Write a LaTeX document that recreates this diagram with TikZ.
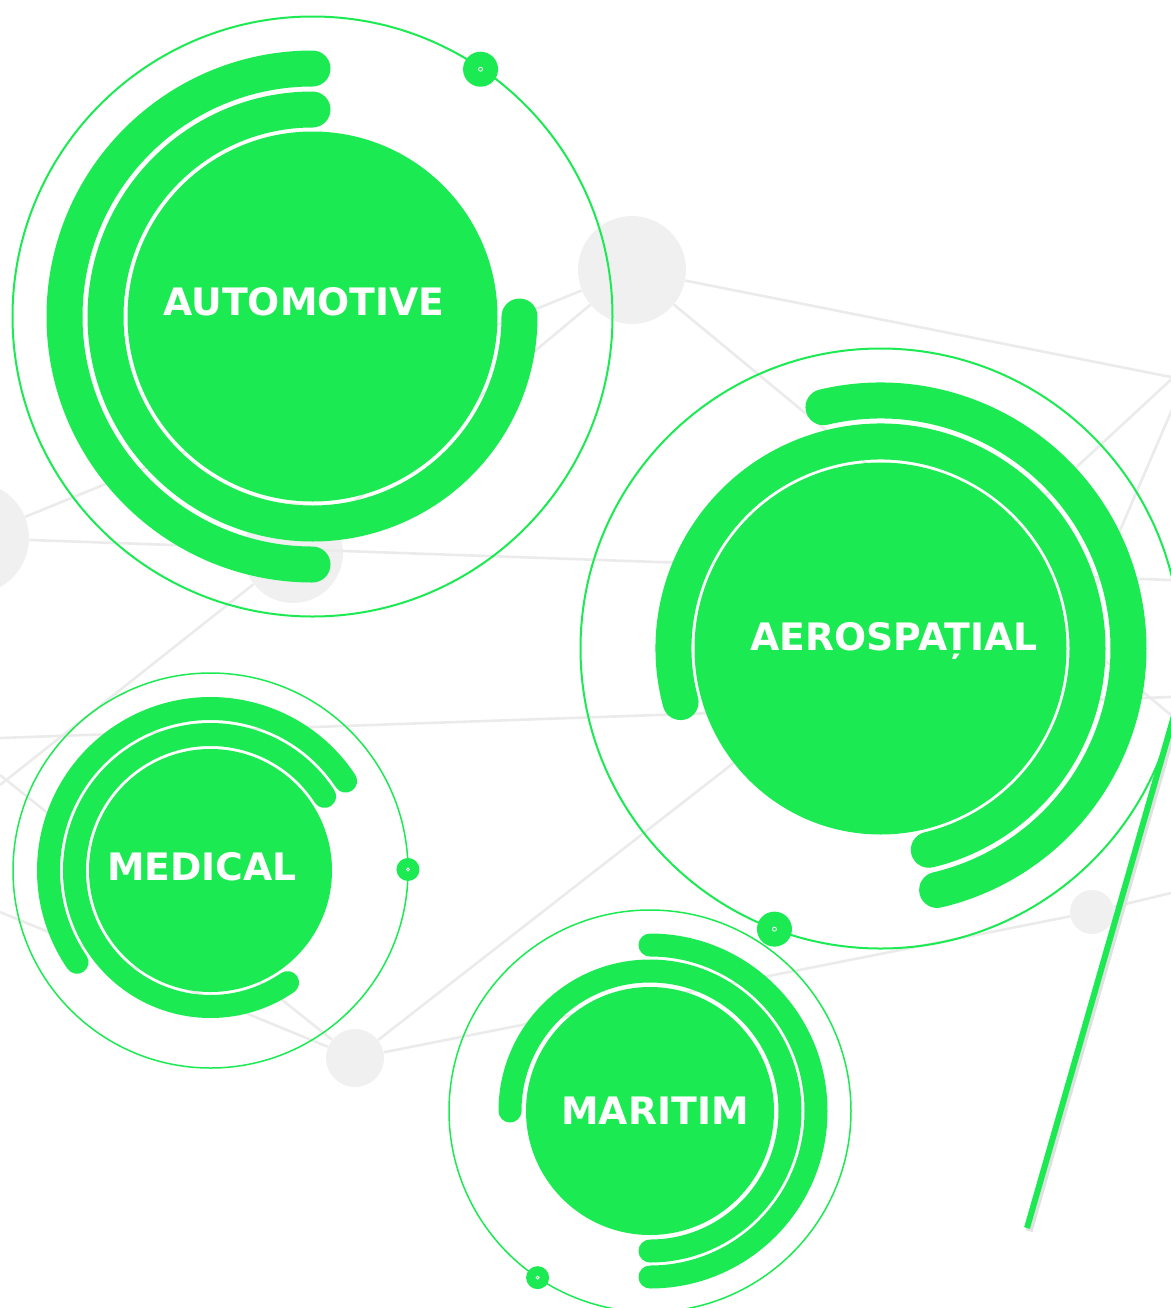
\documentclass[tikz,border=0pt]{standalone}
\usepackage{fontspec}
\usepackage{tikz}
\newfontfamily\labelfont{DejaVu Sans}
\definecolor{sectorgreen}{HTML}{1CEA52}
\definecolor{netgray}{HTML}{EBEBEB}
\definecolor{netnode}{HTML}{F0F0F0}
\tikzset{
	netline/.style={netgray, line width=1.3pt},
	netdot/.style={circle, fill=netnode, inner sep=0pt},
	thinring/.style={sectorgreen, line width=1pt},
	bigband/.style={sectorgreen, line width=18pt, line cap=round},
	smallband/.style={sectorgreen, line width=11.5pt, line cap=round},
	ringdot/.style={fill=sectorgreen},
	dotmark/.style={white, line width=0.4pt},
	sectorlabel/.style={text=white, anchor=base, inner sep=0pt, font=\labelfont\bfseries\fontsize{18.9}{22}\selectfont}
}

\begin{document}
\begin{tikzpicture}[x=0.5pt, y=0.5pt]
	\useasboundingbox (0,0) rectangle (1171,-1308);

	\coordinate (auto) at (312.5,-316.5);
	\coordinate (aero) at (880.5,-648.5);
	\coordinate (med) at (210.5,-870.5);
	\coordinate (mar) at (650,-1111);

	% background net
	\node[netdot, minimum size=54pt] (g1) at (632,-270) {};
	\node[netdot, minimum size=56pt] (g2) at (-27,-538) {};
	\node[netdot, minimum size=50pt] (g3) at (293,-553) {};
	\node[netdot, minimum size=29pt] (g4) at (355,-1058) {};
	\node[netdot, minimum size=22pt] (g5) at (1092,-912) {};
	\coordinate (e1) at (1171,-377);
	\coordinate (e2) at (1171,-580);
	\coordinate (e3) at (0,-785);
	\coordinate (e4) at (0,-738);
	\coordinate (e5) at (1171,-697);
	\coordinate (e6) at (0,-775);
	\coordinate (e7) at (0,-912);
	\coordinate (e8) at (1171,-893);
	\coordinate (e9) at (1190,-362);
	\coordinate (e10) at (1190,-368);
	\coordinate (e11) at (1090,-600);
	\coordinate (e12) at (1171,-715);
	\draw[netline] (g1) -- (e1);
	\draw[netline] (g1) -- (g2);
	\draw[netline] (g1) -- (g3);
	\draw[netline] (g1) -- (e12);
	\draw[netline] (g2) -- (e2);
	\draw[netline] (g3) -- (e3);
	\draw[netline] (e4) -- (e5);
	\draw[netline] (g4) -- (e6);
	\draw[netline] (g4) -- (e7);
	\draw[netline] (g4) -- (aero);
	\draw[netline] (g4) -- (g5);
	\draw[netline] (g5) -- (e8);
	\draw[netline] (e9) -- (aero);
	\draw[netline] (e10) -- (e11);

	% automotive
	\draw[thinring] (auto) circle (300);
	\fill[sectorgreen] (auto) circle (185);
	\draw[bigband] ([shift={(90:207)}]auto) arc[start angle=90, end angle=360, radius=207];
	\draw[bigband] ([shift={(90:248)}]auto) arc[start angle=90, end angle=270, radius=248];
	\fill[ringdot] ([shift={(55.8:299)}]auto) circle (17.5);
	\draw[dotmark] ([shift={(55.8:299)}]auto) circle (2);
	\node[sectorlabel] (autolabel) at (304,-315) {AUTOMOTIVE};

	% aerospatial
	\draw[thinring] (aero) circle (300);
	\fill[sectorgreen] (aero) circle (186);
	\draw[bigband] ([shift={(195:207)}]aero) arc[start angle=195, end angle=-76.5, radius=207];
	\draw[bigband] ([shift={(103.3:248)}]aero) arc[start angle=103.3, end angle=-76.8, radius=248];
	\fill[ringdot] ([shift={(-110.7:300)}]aero) circle (17.5);
	\draw[dotmark] ([shift={(-110.7:300)}]aero) circle (2);
	\node[sectorlabel] (aerolabel) at (894,-650) {AEROSPAȚIAL};

	% medical
	\draw[thinring, line width=0.75pt] (med) circle (197.5);
	\fill[sectorgreen] (med) circle (121.5);
	\draw[smallband] ([shift={(33:136)}]med) arc[start angle=33, end angle=304.5, radius=136];
	\draw[smallband] ([shift={(33.5:162)}]med) arc[start angle=33.5, end angle=214.5, radius=162];
	\fill[ringdot] ([shift={(0.3:197.5)}]med) circle (11.5);
	\draw[dotmark] ([shift={(0.3:197.5)}]med) circle (1.5);
	\node[sectorlabel] (medlabel) at (202,-880) {MEDICAL};

	% maritim
	\draw[thinring, line width=0.75pt] (mar) circle (201);
	\fill[sectorgreen] (mar) circle (124);
	\draw[smallband] ([shift={(180:140)}]mar) arc[start angle=180, end angle=-90, radius=140];
	\draw[smallband] ([shift={(90:166)}]mar) arc[start angle=90, end angle=-90, radius=166];
	\fill[ringdot] ([shift={(-124:201)}]mar) circle (11.5);
	\draw[dotmark] ([shift={(-124:201)}]mar) circle (1.5);
	\node[sectorlabel] (marlabel) at (655,-1124) {MARITIM};

	% diagonal stroke
	\coordinate (stroketop) at (1190,-660);
	\coordinate (strokeend) at (1027,-1228);
	\draw[black!12, line width=3.6pt] ([shift={(2,-3)}]stroketop) -- ([shift={(2,-3)}]strokeend);
	\draw[sectorgreen, line width=3pt] (stroketop) -- (strokeend);
\end{tikzpicture}
\end{document}
